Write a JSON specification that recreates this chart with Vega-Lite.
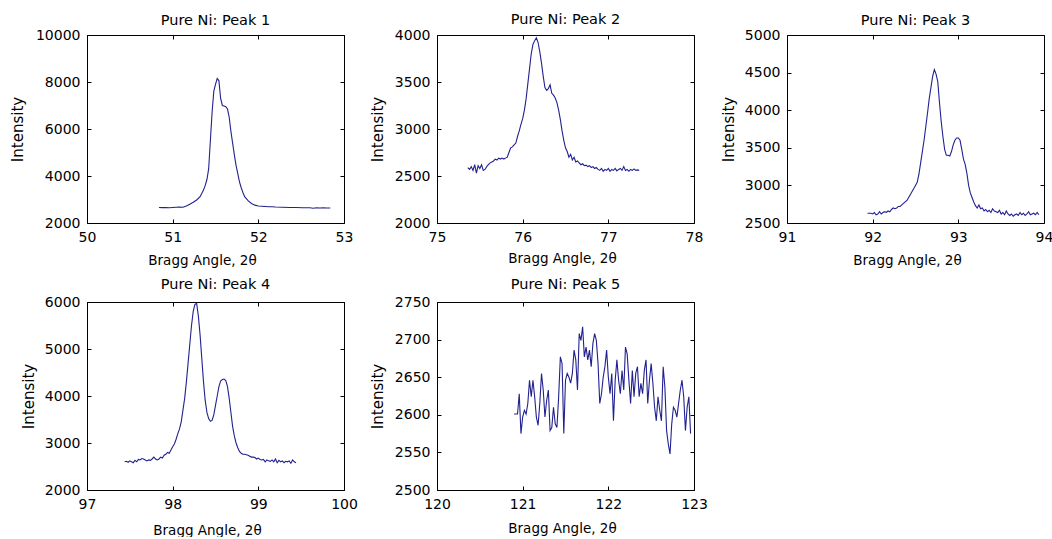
{
  "$schema": "https://vega.github.io/schema/vega-lite/v6.json",
  "background": "white",
  "padding": {"left": 9, "top": 11, "right": 0, "bottom": 0},
  "config": {
    "font": "DejaVu Sans",
    "view": {"stroke": "black", "strokeWidth": 1},
    "axis": {
      "grid": false, "domain": false, "ticks": true, "tickSize": -4, "tickColor": "black", "tickWidth": 1, "format": "d",
      "labelFont": "DejaVu Sans", "labelFontSize": 14, "labelColor": "black", "labelPadding": 11, "labelFlush": false, "labelOverlap": false,
      "titleFont": "DejaVu Sans", "titleFontWeight": "normal", "titleColor": "black"
    },
    "axisY": {"titleFontSize": 15, "titleBaseline": "middle", "titleAngle": -90},
    "axisX": {"titleFontSize": 13.5, "titleBaseline": "middle"},
    "title": {"font": "DejaVu Sans", "fontSize": 14.5, "fontWeight": "normal", "color": "black", "anchor": "middle", "baseline": "middle", "frame": "group"},
    "line": {"color": "#22228f", "strokeWidth": 1.1}
  },
  "datasets": {
    "p1": [{"x":50.84,"y":2660},{"x":50.88,"y":2655},{"x":50.92,"y":2660},{"x":50.96,"y":2650},{"x":51.00,"y":2660},{"x":51.04,"y":2670},{"x":51.08,"y":2680},{"x":51.12,"y":2670},{"x":51.16,"y":2720},{"x":51.20,"y":2800},{"x":51.24,"y":2880},{"x":51.28,"y":2980},{"x":51.32,"y":3120},{"x":51.36,"y":3400},{"x":51.38,"y":3600},{"x":51.40,"y":3850},{"x":51.42,"y":4300},{"x":51.44,"y":5500},{"x":51.46,"y":6700},{"x":51.48,"y":7600},{"x":51.50,"y":7900},{"x":51.52,"y":8150},{"x":51.54,"y":8050},{"x":51.56,"y":7300},{"x":51.58,"y":7000},{"x":51.60,"y":6980},{"x":51.62,"y":6950},{"x":51.64,"y":6850},{"x":51.66,"y":6500},{"x":51.68,"y":5900},{"x":51.70,"y":5400},{"x":51.72,"y":4900},{"x":51.74,"y":4450},{"x":51.76,"y":4100},{"x":51.78,"y":3750},{"x":51.80,"y":3500},{"x":51.82,"y":3300},{"x":51.84,"y":3120},{"x":51.88,"y":2950},{"x":51.92,"y":2830},{"x":51.96,"y":2760},{"x":52.00,"y":2720},{"x":52.04,"y":2710},{"x":52.08,"y":2700},{"x":52.12,"y":2690},{"x":52.16,"y":2690},{"x":52.20,"y":2680},{"x":52.28,"y":2670},{"x":52.36,"y":2660},{"x":52.44,"y":2660},{"x":52.52,"y":2650},{"x":52.60,"y":2650},{"x":52.64,"y":2630},{"x":52.68,"y":2650},{"x":52.72,"y":2640},{"x":52.76,"y":2650},{"x":52.80,"y":2640},{"x":52.84,"y":2640}],
    "p2": [{"x":75.36,"y":2590},{"x":75.38,"y":2570},{"x":75.40,"y":2600},{"x":75.42,"y":2560},{"x":75.44,"y":2620},{"x":75.46,"y":2530},{"x":75.48,"y":2610},{"x":75.50,"y":2580},{"x":75.52,"y":2620},{"x":75.54,"y":2560},{"x":75.56,"y":2570},{"x":75.58,"y":2600},{"x":75.60,"y":2620},{"x":75.62,"y":2640},{"x":75.64,"y":2650},{"x":75.66,"y":2660},{"x":75.68,"y":2680},{"x":75.70,"y":2670},{"x":75.72,"y":2690},{"x":75.74,"y":2680},{"x":75.76,"y":2690},{"x":75.78,"y":2680},{"x":75.80,"y":2690},{"x":75.82,"y":2700},{"x":75.84,"y":2750},{"x":75.86,"y":2800},{"x":75.88,"y":2810},{"x":75.90,"y":2830},{"x":75.92,"y":2850},{"x":75.94,"y":2920},{"x":75.96,"y":2980},{"x":75.98,"y":3050},{"x":76.00,"y":3110},{"x":76.02,"y":3200},{"x":76.04,"y":3320},{"x":76.06,"y":3480},{"x":76.08,"y":3640},{"x":76.10,"y":3800},{"x":76.12,"y":3900},{"x":76.14,"y":3940},{"x":76.16,"y":3970},{"x":76.18,"y":3920},{"x":76.20,"y":3820},{"x":76.22,"y":3700},{"x":76.24,"y":3560},{"x":76.26,"y":3440},{"x":76.28,"y":3410},{"x":76.30,"y":3430},{"x":76.32,"y":3470},{"x":76.34,"y":3380},{"x":76.36,"y":3360},{"x":76.38,"y":3330},{"x":76.40,"y":3280},{"x":76.42,"y":3200},{"x":76.44,"y":3100},{"x":76.46,"y":2980},{"x":76.48,"y":2880},{"x":76.50,"y":2800},{"x":76.52,"y":2760},{"x":76.54,"y":2700},{"x":76.56,"y":2730},{"x":76.58,"y":2670},{"x":76.60,"y":2700},{"x":76.62,"y":2650},{"x":76.64,"y":2660},{"x":76.66,"y":2640},{"x":76.68,"y":2620},{"x":76.70,"y":2630},{"x":76.72,"y":2610},{"x":76.74,"y":2615},{"x":76.76,"y":2600},{"x":76.78,"y":2610},{"x":76.80,"y":2590},{"x":76.82,"y":2600},{"x":76.84,"y":2580},{"x":76.86,"y":2590},{"x":76.88,"y":2570},{"x":76.90,"y":2560},{"x":76.92,"y":2580},{"x":76.94,"y":2550},{"x":76.96,"y":2570},{"x":76.98,"y":2560},{"x":77.00,"y":2580},{"x":77.02,"y":2550},{"x":77.04,"y":2570},{"x":77.06,"y":2560},{"x":77.08,"y":2580},{"x":77.10,"y":2555},{"x":77.12,"y":2570},{"x":77.14,"y":2580},{"x":77.16,"y":2560},{"x":77.18,"y":2600},{"x":77.20,"y":2560},{"x":77.22,"y":2570},{"x":77.24,"y":2550},{"x":77.26,"y":2570},{"x":77.28,"y":2560},{"x":77.30,"y":2575},{"x":77.32,"y":2560},{"x":77.34,"y":2565},{"x":77.36,"y":2560}],
    "p3": [{"x":91.94,"y":2630},{"x":91.96,"y":2630},{"x":91.98,"y":2630},{"x":92.00,"y":2620},{"x":92.02,"y":2640},{"x":92.04,"y":2610},{"x":92.06,"y":2620},{"x":92.08,"y":2650},{"x":92.10,"y":2620},{"x":92.12,"y":2640},{"x":92.14,"y":2650},{"x":92.16,"y":2640},{"x":92.18,"y":2660},{"x":92.20,"y":2650},{"x":92.22,"y":2680},{"x":92.24,"y":2700},{"x":92.26,"y":2690},{"x":92.28,"y":2700},{"x":92.30,"y":2720},{"x":92.32,"y":2720},{"x":92.34,"y":2740},{"x":92.36,"y":2760},{"x":92.38,"y":2780},{"x":92.40,"y":2800},{"x":92.42,"y":2840},{"x":92.44,"y":2880},{"x":92.46,"y":2920},{"x":92.48,"y":2960},{"x":92.50,"y":3000},{"x":92.52,"y":3040},{"x":92.54,"y":3150},{"x":92.56,"y":3300},{"x":92.58,"y":3450},{"x":92.60,"y":3600},{"x":92.62,"y":3780},{"x":92.64,"y":3960},{"x":92.66,"y":4150},{"x":92.68,"y":4300},{"x":92.70,"y":4450},{"x":92.72,"y":4540},{"x":92.74,"y":4480},{"x":92.76,"y":4380},{"x":92.78,"y":4100},{"x":92.80,"y":3850},{"x":92.82,"y":3650},{"x":92.84,"y":3480},{"x":92.86,"y":3400},{"x":92.88,"y":3400},{"x":92.90,"y":3390},{"x":92.92,"y":3450},{"x":92.94,"y":3540},{"x":92.96,"y":3600},{"x":92.98,"y":3630},{"x":93.00,"y":3630},{"x":93.02,"y":3600},{"x":93.04,"y":3480},{"x":93.06,"y":3350},{"x":93.08,"y":3280},{"x":93.10,"y":3160},{"x":93.12,"y":3000},{"x":93.14,"y":2900},{"x":93.16,"y":2840},{"x":93.18,"y":2780},{"x":93.20,"y":2730},{"x":93.22,"y":2700},{"x":93.24,"y":2740},{"x":93.26,"y":2690},{"x":93.28,"y":2700},{"x":93.30,"y":2660},{"x":93.32,"y":2680},{"x":93.34,"y":2650},{"x":93.36,"y":2670},{"x":93.38,"y":2640},{"x":93.40,"y":2690},{"x":93.42,"y":2660},{"x":93.44,"y":2650},{"x":93.46,"y":2640},{"x":93.48,"y":2670},{"x":93.50,"y":2620},{"x":93.52,"y":2640},{"x":93.54,"y":2610},{"x":93.56,"y":2660},{"x":93.58,"y":2620},{"x":93.60,"y":2600},{"x":93.62,"y":2620},{"x":93.64,"y":2590},{"x":93.66,"y":2610},{"x":93.68,"y":2620},{"x":93.70,"y":2600},{"x":93.72,"y":2640},{"x":93.74,"y":2610},{"x":93.76,"y":2630},{"x":93.78,"y":2600},{"x":93.80,"y":2620},{"x":93.82,"y":2650},{"x":93.84,"y":2610},{"x":93.86,"y":2620},{"x":93.88,"y":2630},{"x":93.90,"y":2610},{"x":93.92,"y":2640},{"x":93.94,"y":2610}],
    "p4": [{"x":97.44,"y":2600},{"x":97.46,"y":2610},{"x":97.48,"y":2590},{"x":97.50,"y":2620},{"x":97.52,"y":2600},{"x":97.54,"y":2580},{"x":97.56,"y":2630},{"x":97.58,"y":2600},{"x":97.60,"y":2650},{"x":97.62,"y":2640},{"x":97.64,"y":2670},{"x":97.66,"y":2660},{"x":97.68,"y":2640},{"x":97.70,"y":2620},{"x":97.72,"y":2640},{"x":97.74,"y":2630},{"x":97.76,"y":2660},{"x":97.78,"y":2700},{"x":97.80,"y":2660},{"x":97.82,"y":2640},{"x":97.84,"y":2660},{"x":97.86,"y":2700},{"x":97.88,"y":2680},{"x":97.90,"y":2740},{"x":97.92,"y":2760},{"x":97.94,"y":2800},{"x":97.96,"y":2780},{"x":97.98,"y":2850},{"x":98.00,"y":2920},{"x":98.02,"y":2980},{"x":98.04,"y":3080},{"x":98.06,"y":3200},{"x":98.08,"y":3300},{"x":98.10,"y":3450},{"x":98.12,"y":3700},{"x":98.14,"y":3950},{"x":98.16,"y":4300},{"x":98.18,"y":4700},{"x":98.20,"y":5100},{"x":98.22,"y":5500},{"x":98.24,"y":5800},{"x":98.26,"y":5950},{"x":98.28,"y":5970},{"x":98.30,"y":5700},{"x":98.32,"y":5300},{"x":98.34,"y":4800},{"x":98.36,"y":4300},{"x":98.38,"y":3900},{"x":98.40,"y":3650},{"x":98.42,"y":3520},{"x":98.44,"y":3460},{"x":98.46,"y":3480},{"x":98.48,"y":3600},{"x":98.50,"y":3800},{"x":98.52,"y":4000},{"x":98.54,"y":4200},{"x":98.56,"y":4320},{"x":98.58,"y":4350},{"x":98.60,"y":4360},{"x":98.62,"y":4330},{"x":98.64,"y":4200},{"x":98.66,"y":3950},{"x":98.68,"y":3650},{"x":98.70,"y":3350},{"x":98.72,"y":3150},{"x":98.74,"y":3000},{"x":98.76,"y":2900},{"x":98.78,"y":2820},{"x":98.80,"y":2780},{"x":98.82,"y":2760},{"x":98.84,"y":2760},{"x":98.86,"y":2750},{"x":98.88,"y":2740},{"x":98.90,"y":2720},{"x":98.92,"y":2700},{"x":98.94,"y":2700},{"x":98.96,"y":2690},{"x":98.98,"y":2660},{"x":99.00,"y":2680},{"x":99.02,"y":2650},{"x":99.04,"y":2640},{"x":99.06,"y":2650},{"x":99.08,"y":2600},{"x":99.10,"y":2640},{"x":99.12,"y":2620},{"x":99.14,"y":2610},{"x":99.16,"y":2640},{"x":99.18,"y":2600},{"x":99.20,"y":2660},{"x":99.22,"y":2580},{"x":99.24,"y":2630},{"x":99.26,"y":2600},{"x":99.28,"y":2620},{"x":99.30,"y":2580},{"x":99.32,"y":2610},{"x":99.34,"y":2600},{"x":99.36,"y":2620},{"x":99.38,"y":2570},{"x":99.40,"y":2640},{"x":99.42,"y":2600},{"x":99.44,"y":2580}],
    "p5": [{"x":120.90,"y":2601},{"x":120.94,"y":2601},{"x":120.96,"y":2628},{"x":120.98,"y":2575},{"x":121.00,"y":2597},{"x":121.02,"y":2606},{"x":121.04,"y":2601},{"x":121.06,"y":2615},{"x":121.08,"y":2646},{"x":121.10,"y":2624},{"x":121.12,"y":2646},{"x":121.14,"y":2624},{"x":121.16,"y":2597},{"x":121.18,"y":2586},{"x":121.20,"y":2615},{"x":121.22,"y":2655},{"x":121.24,"y":2633},{"x":121.26,"y":2597},{"x":121.28,"y":2619},{"x":121.30,"y":2633},{"x":121.32,"y":2579},{"x":121.34,"y":2583},{"x":121.36,"y":2610},{"x":121.38,"y":2588},{"x":121.40,"y":2583},{"x":121.42,"y":2624},{"x":121.44,"y":2677},{"x":121.46,"y":2668},{"x":121.48,"y":2575},{"x":121.50,"y":2646},{"x":121.52,"y":2655},{"x":121.54,"y":2650},{"x":121.56,"y":2642},{"x":121.58,"y":2655},{"x":121.60,"y":2686},{"x":121.62,"y":2673},{"x":121.64,"y":2633},{"x":121.66,"y":2708},{"x":121.68,"y":2699},{"x":121.70,"y":2717},{"x":121.72,"y":2677},{"x":121.74,"y":2690},{"x":121.76,"y":2673},{"x":121.78,"y":2686},{"x":121.80,"y":2664},{"x":121.82,"y":2695},{"x":121.84,"y":2708},{"x":121.86,"y":2699},{"x":121.88,"y":2668},{"x":121.90,"y":2615},{"x":121.92,"y":2628},{"x":121.94,"y":2650},{"x":121.96,"y":2664},{"x":121.98,"y":2686},{"x":122.00,"y":2650},{"x":122.02,"y":2628},{"x":122.04,"y":2655},{"x":122.06,"y":2592},{"x":122.08,"y":2646},{"x":122.10,"y":2673},{"x":122.12,"y":2646},{"x":122.14,"y":2628},{"x":122.16,"y":2659},{"x":122.18,"y":2633},{"x":122.20,"y":2690},{"x":122.22,"y":2681},{"x":122.24,"y":2646},{"x":122.26,"y":2615},{"x":122.28,"y":2659},{"x":122.30,"y":2624},{"x":122.32,"y":2655},{"x":122.34,"y":2664},{"x":122.36,"y":2624},{"x":122.38,"y":2642},{"x":122.40,"y":2628},{"x":122.42,"y":2659},{"x":122.44,"y":2673},{"x":122.46,"y":2615},{"x":122.48,"y":2646},{"x":122.50,"y":2668},{"x":122.52,"y":2642},{"x":122.54,"y":2610},{"x":122.56,"y":2592},{"x":122.58,"y":2624},{"x":122.60,"y":2606},{"x":122.62,"y":2592},{"x":122.64,"y":2664},{"x":122.66,"y":2637},{"x":122.68,"y":2579},{"x":122.70,"y":2561},{"x":122.72,"y":2548},{"x":122.74,"y":2588},{"x":122.76,"y":2610},{"x":122.78,"y":2606},{"x":122.80,"y":2597},{"x":122.82,"y":2615},{"x":122.84,"y":2633},{"x":122.86,"y":2646},{"x":122.88,"y":2624},{"x":122.90,"y":2579},{"x":122.92,"y":2610},{"x":122.94,"y":2624},{"x":122.96,"y":2575}]
  },
  "columns": 3,
  "bounds": "flush",
  "spacing": {"column": 93, "row": 79},
  "concat": [
    {
      "width": 257, "height": 188,
      "title": {"text": "Pure Ni: Peak 1", "offset": 0},
      "data": {"name": "p1"},
      "layer": [
        {"mark": {"type": "line"},
         "encoding": {
           "x": {"field": "x", "type": "quantitative", "scale": {"domain": [50, 53], "nice": false, "zero": false}, "axis": {"values": [50, 51, 52, 53], "title": "Bragg Angle, 2θ", "titleX": 115, "titleY": 37}},
           "y": {"field": "y", "type": "quantitative", "scale": {"domain": [2000, 10000], "nice": false, "zero": false}, "axis": {"values": [2000, 4000, 6000, 8000, 10000], "title": "Intensity", "titleX": -70}}
         }},
        {"mark": {"type": "line", "strokeOpacity": 0},
         "encoding": {
           "x": {"field": "x", "type": "quantitative", "scale": {"domain": [50, 53], "nice": false, "zero": false}, "axis": {"orient": "top", "values": [50, 51, 52, 53], "labels": false, "title": null}},
           "y": {"field": "y", "type": "quantitative", "scale": {"domain": [2000, 10000], "nice": false, "zero": false}, "axis": {"orient": "right", "values": [2000, 4000, 6000, 8000, 10000], "labels": false, "title": null}}
         }}
      ],
      "resolve": {"axis": {"x": "independent", "y": "independent"}}
    },
    {
      "width": 257, "height": 188,
      "title": {"text": "Pure Ni: Peak 2", "offset": 1},
      "data": {"name": "p2"},
      "layer": [
        {"mark": {"type": "line"},
         "encoding": {
           "x": {"field": "x", "type": "quantitative", "scale": {"domain": [75, 78], "nice": false, "zero": false}, "axis": {"values": [75, 76, 77, 78], "title": "Bragg Angle, 2θ", "titleX": 125, "titleY": 35}},
           "y": {"field": "y", "type": "quantitative", "scale": {"domain": [2000, 4000], "nice": false, "zero": false}, "axis": {"values": [2000, 2500, 3000, 3500, 4000], "title": "Intensity", "titleX": -60}}
         }},
        {"mark": {"type": "line", "strokeOpacity": 0},
         "encoding": {
           "x": {"field": "x", "type": "quantitative", "scale": {"domain": [75, 78], "nice": false, "zero": false}, "axis": {"orient": "top", "values": [75, 76, 77, 78], "labels": false, "title": null}},
           "y": {"field": "y", "type": "quantitative", "scale": {"domain": [2000, 4000], "nice": false, "zero": false}, "axis": {"orient": "right", "values": [2000, 2500, 3000, 3500, 4000], "labels": false, "title": null}}
         }}
      ],
      "resolve": {"axis": {"x": "independent", "y": "independent"}}
    },
    {
      "width": 257, "height": 188,
      "title": {"text": "Pure Ni: Peak 3", "offset": 0},
      "data": {"name": "p3"},
      "layer": [
        {"mark": {"type": "line"},
         "encoding": {
           "x": {"field": "x", "type": "quantitative", "scale": {"domain": [91, 94], "nice": false, "zero": false}, "axis": {"values": [91, 92, 93, 94], "title": "Bragg Angle, 2θ", "titleX": 120, "titleY": 37}},
           "y": {"field": "y", "type": "quantitative", "scale": {"domain": [2500, 5000], "nice": false, "zero": false}, "axis": {"values": [2500, 3000, 3500, 4000, 4500, 5000], "title": "Intensity", "titleX": -59}}
         }},
        {"mark": {"type": "line", "strokeOpacity": 0},
         "encoding": {
           "x": {"field": "x", "type": "quantitative", "scale": {"domain": [91, 94], "nice": false, "zero": false}, "axis": {"orient": "top", "values": [91, 92, 93, 94], "labels": false, "title": null}},
           "y": {"field": "y", "type": "quantitative", "scale": {"domain": [2500, 5000], "nice": false, "zero": false}, "axis": {"orient": "right", "values": [2500, 3000, 3500, 4000, 4500, 5000], "labels": false, "title": null}}
         }}
      ],
      "resolve": {"axis": {"x": "independent", "y": "independent"}}
    },
    {
      "width": 257, "height": 188,
      "title": {"text": "Pure Ni: Peak 4", "offset": 3},
      "data": {"name": "p4"},
      "layer": [
        {"mark": {"type": "line"},
         "encoding": {
           "x": {"field": "x", "type": "quantitative", "scale": {"domain": [97, 100], "nice": false, "zero": false}, "axis": {"values": [97, 98, 99, 100], "title": "Bragg Angle, 2θ", "titleX": 120, "titleY": 40}},
           "y": {"field": "y", "type": "quantitative", "scale": {"domain": [2000, 6000], "nice": false, "zero": false}, "axis": {"values": [2000, 3000, 4000, 5000, 6000], "title": "Intensity", "titleX": -59}}
         }},
        {"mark": {"type": "line", "strokeOpacity": 0},
         "encoding": {
           "x": {"field": "x", "type": "quantitative", "scale": {"domain": [97, 100], "nice": false, "zero": false}, "axis": {"orient": "top", "values": [97, 98, 99, 100], "labels": false, "title": null}},
           "y": {"field": "y", "type": "quantitative", "scale": {"domain": [2000, 6000], "nice": false, "zero": false}, "axis": {"orient": "right", "values": [2000, 3000, 4000, 5000, 6000], "labels": false, "title": null}}
         }}
      ],
      "resolve": {"axis": {"x": "independent", "y": "independent"}}
    },
    {
      "width": 257, "height": 188,
      "title": {"text": "Pure Ni: Peak 5", "offset": 3},
      "data": {"name": "p5"},
      "layer": [
        {"mark": {"type": "line"},
         "encoding": {
           "x": {"field": "x", "type": "quantitative", "scale": {"domain": [120, 123], "nice": false, "zero": false}, "axis": {"values": [120, 121, 122, 123], "title": "Bragg Angle, 2θ", "titleX": 125, "titleY": 38}},
           "y": {"field": "y", "type": "quantitative", "scale": {"domain": [2500, 2750], "nice": false, "zero": false}, "axis": {"values": [2500, 2550, 2600, 2650, 2700, 2750], "title": "Intensity", "titleX": -60}}
         }},
        {"mark": {"type": "line", "strokeOpacity": 0},
         "encoding": {
           "x": {"field": "x", "type": "quantitative", "scale": {"domain": [120, 123], "nice": false, "zero": false}, "axis": {"orient": "top", "values": [120, 121, 122, 123], "labels": false, "title": null}},
           "y": {"field": "y", "type": "quantitative", "scale": {"domain": [2500, 2750], "nice": false, "zero": false}, "axis": {"orient": "right", "values": [2500, 2550, 2600, 2650, 2700, 2750], "labels": false, "title": null}}
         }}
      ],
      "resolve": {"axis": {"x": "independent", "y": "independent"}}
    }
  ]
}
